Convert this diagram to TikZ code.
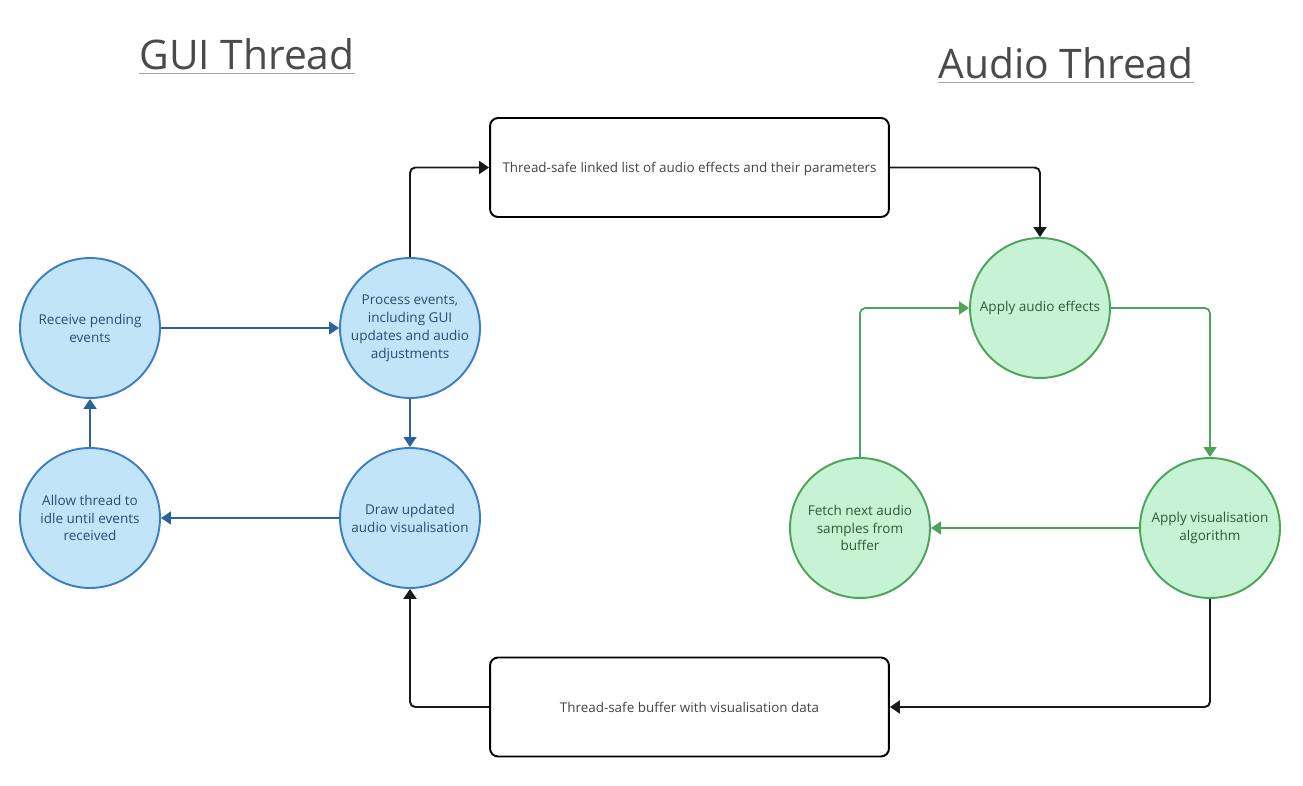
\documentclass[tikz,border=0pt]{standalone}
\usepackage{fontspec}
\setmainfont{Open Sans}
\usetikzlibrary{arrows.meta, positioning}
\definecolor{guifill}{HTML}{C2E4F8}
\definecolor{guiline}{HTML}{3C7EC2}
\definecolor{guiarrow}{HTML}{2E619A}
\definecolor{guitext}{HTML}{2B4C6F}
\definecolor{audfill}{HTML}{C6F3D3}
\definecolor{audline}{HTML}{4EA35B}
\definecolor{audtext}{HTML}{2E5A36}
\definecolor{titlegray}{HTML}{4A4A4A}
\definecolor{boxtext}{HTML}{444444}

\begin{document}
\begin{tikzpicture}[x=0.02cm, y=-0.02cm,
    guinode/.style={circle, draw=guiline, fill=guifill, line width=1.1pt, minimum size=2.8cm, inner sep=0pt, align=center, text=guitext, font=\fontsize{7.7}{10.2}\selectfont},
    audnode/.style={circle, draw=audline, fill=audfill, line width=1.1pt, minimum size=2.8cm, inner sep=0pt, align=center, text=audtext, font=\fontsize{7.7}{10.2}\selectfont},
    sharedbox/.style={rectangle, rounded corners=0.16cm, draw=black, line width=1.1pt, minimum width=7.98cm, minimum height=1.98cm, text depth=0pt, align=center, text=boxtext, font=\fontsize{7.65}{10}\selectfont},
    titletext/.style={inner sep=0pt, anchor=base, text=titlegray, font=\fontsize{23.2}{27}\selectfont},
    underl/.style={draw=gray!70, line width=1.1pt},
    guiflow/.style={-{Triangle[length=0.2cm, width=0.26cm]}, draw=guiarrow, line width=1pt},
    audflow/.style={-{Triangle[length=0.2cm, width=0.26cm]}, draw=audline, line width=1pt, rounded corners=3pt},
    shareflow/.style={-{Triangle[length=0.2cm, width=0.26cm]}, draw=black!90, line width=1.1pt, rounded corners=3pt}]
  \useasboundingbox (0,0) rectangle (1303,786);

  % Titles
  \node[titletext] (guititle) at (247,70) {GUI Thread};
  \node[titletext] (audtitle) at (1066,79) {Audio Thread};
  \draw[underl] ([yshift=-2pt]guititle.base west) -- ([yshift=-2pt]guititle.base east);
  \draw[underl] ([yshift=-2pt]audtitle.base west) -- ([yshift=-2pt]audtitle.base east);

  % GUI thread loop
  \node[guinode] (recv) at (90,328) {Receive pending\\events};
  \node[guinode] (proc) at (410,328) {Process events,\\including GUI\\updates and audio\\adjustments};
  \node[guinode] (idle) at (90,518) {Allow thread to\\idle until events\\received};
  \node[guinode] (draw) at (410,518) {Draw updated\\audio visualisation};

  % Shared data
  \node[sharedbox] (fxlist) at (689.5,167.5) {Thread-safe linked list of audio effects and their parameters};
  \node[sharedbox] (visbuf) at (689.5,707) {Thread-safe buffer with visualisation data};

  % Audio thread loop
  \node[audnode] (fx) at (1040,308) {Apply audio effects};
  \node[audnode] (fetch) at (860,528) {Fetch next audio\\samples from\\buffer};
  \node[audnode] (vis) at (1210,528) {Apply visualisation\\algorithm};

  % Connectors
  \draw[guiflow] (recv) -- (proc);
  \draw[guiflow] (proc) -- (draw);
  \draw[guiflow] (draw) -- (idle);
  \draw[guiflow] (idle) -- (recv);

  \draw[shareflow] (proc.north) |- (fxlist.west);
  \draw[shareflow] (fxlist.east) -| (fx.north);
  \draw[shareflow] (vis.south) |- (visbuf.east);
  \draw[shareflow] (visbuf.west) -| (draw.south);

  \draw[audflow] (fx.east) -| (vis.north);
  \draw[audflow] (vis) -- (fetch);
  \draw[audflow] (fetch.north) |- (fx.west);
\end{tikzpicture}
\end{document}
